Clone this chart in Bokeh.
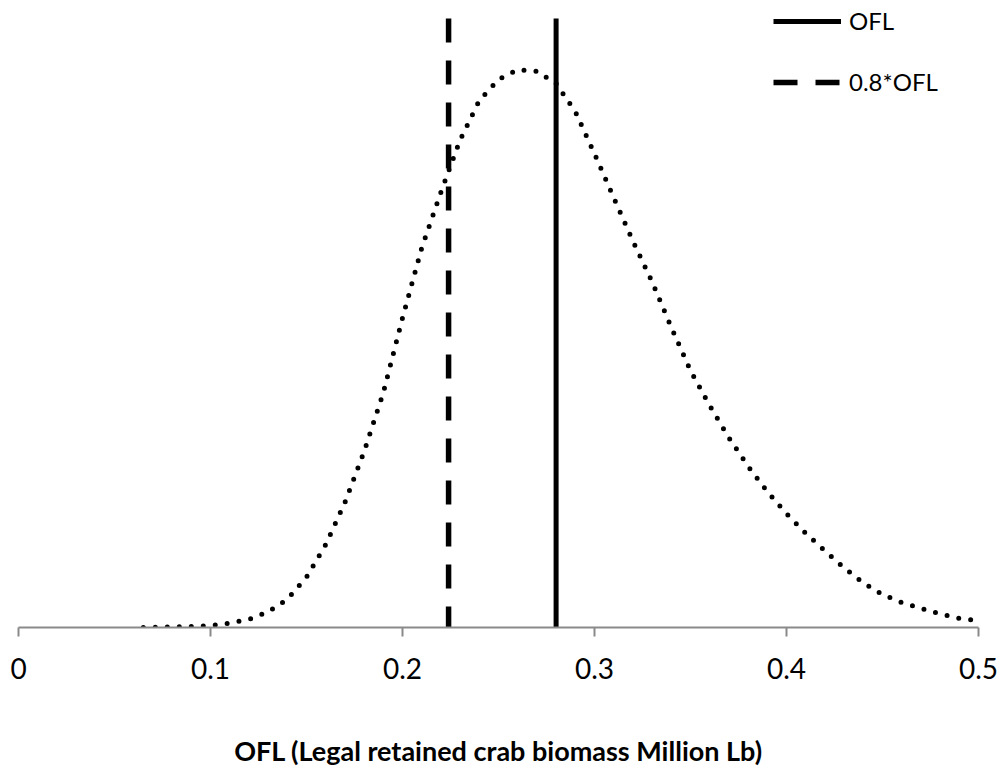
from bokeh.plotting import figure
from bokeh.models import FixedTicker, Legend, LegendItem
from bokeh.embed import file_html
from bokeh.resources import INLINE

# OFL distribution (x in Million Lb, y relative density)
ofl_x = [0.065, 0.07, 0.08, 0.09, 0.10, 0.11, 0.12, 0.13, 0.14, 0.15, 0.16, 0.17,
         0.18, 0.19, 0.20, 0.21, 0.22, 0.23, 0.24, 0.25, 0.26, 0.27, 0.28, 0.29,
         0.30, 0.31, 0.32, 0.33, 0.34, 0.35, 0.36, 0.37, 0.38, 0.39, 0.40, 0.41,
         0.42, 0.43, 0.44, 0.45, 0.46, 0.47, 0.48, 0.49, 0.50]
density = [0.000, 0.002, 0.007, 0.010, 0.020, 0.043, 0.081, 0.156, 0.282, 0.503,
           0.828, 1.250, 1.759, 2.347, 3.095, 3.795, 4.353, 4.875, 5.270, 5.480,
           5.577, 5.563, 5.439, 5.160, 4.737, 4.298, 3.865, 3.457, 3.002, 2.568,
           2.219, 1.898, 1.612, 1.358, 1.138, 0.943, 0.767, 0.597, 0.446, 0.330,
           0.250, 0.192, 0.136, 0.090, 0.067]

ofl_value = 0.28
abc_value = 0.224          # 0.8 * OFL
line_top = 6.09

tick_values = [0, 0.1, 0.2, 0.3, 0.4, 0.5]
tick_labels = ["0", "0.1", "0.2", "0.3", "0.4", "0.5"]

p = figure(width=998, height=769, output_backend="svg", toolbar_location=None,
           x_range=(0, 0.5), y_range=(0, 6.27),
           min_border_left=18, min_border_right=20, min_border_top=0,
           min_border_bottom=142, y_axis_location=None)
p.outline_line_color = None
p.xgrid.visible = False
p.ygrid.visible = False
p.background_fill_color = "white"
p.border_fill_color = "white"

curve = p.line(ofl_x, density, line_color="black", line_width=5,
               line_dash="0 12", line_cap="round")
r_ofl = p.line([ofl_value, ofl_value], [line_top, 0], line_color="black",
               line_width=5)
r_abc = p.line([abc_value, abc_value], [line_top, 0], line_color="black",
               line_width=5.5, line_dash="24 18")

ax = p.xaxis[0]
ax.ticker = FixedTicker(ticks=tick_values)
ax.major_label_overrides = {v: l for v, l in zip(tick_values, tick_labels)}
ax.minor_tick_line_color = None
ax.major_tick_in = 0
ax.major_tick_out = 9
ax.axis_line_color = "#8a8a8a"
ax.axis_line_width = 2
ax.major_tick_line_color = "#8a8a8a"
ax.major_tick_line_width = 2
ax.major_label_text_font = "Lato"
ax.major_label_text_font_size = "28px"
ax.major_label_text_color = "black"
ax.major_label_standoff = 21
ax.axis_label = "OFL (Legal retained crab biomass Million Lb)"
ax.axis_label_text_font = "Lato"
ax.axis_label_text_font_style = "bold"
ax.axis_label_text_font_size = "27px"
ax.axis_label_text_color = "black"
ax.axis_label_standoff = 52

legend = Legend(items=[LegendItem(label="OFL", renderers=[r_ofl]),
                       LegendItem(label="0.8*OFL", renderers=[r_abc])],
                location=(755, 531), orientation="vertical",
                glyph_width=68, glyph_height=28, label_height=28,
                spacing=32, padding=0, margin=0, label_standoff=8,
                label_text_font="Lato", label_text_font_size="24px",
                label_text_color="black",
                border_line_alpha=0, background_fill_alpha=0)
p.add_layout(legend)

open("out.html", "w").write(file_html(p, INLINE))
